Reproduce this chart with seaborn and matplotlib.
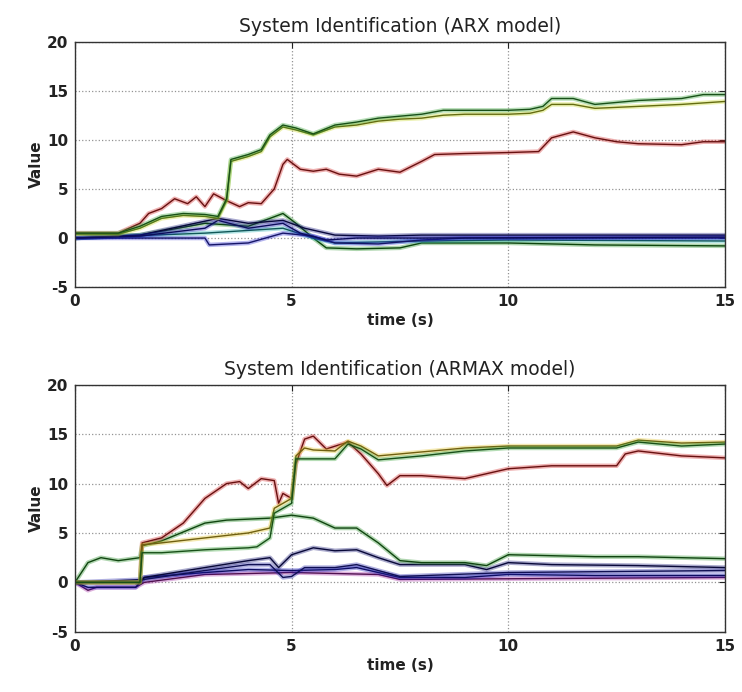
import matplotlib
matplotlib.use("Agg")
import matplotlib.pyplot as plt
import matplotlib.patheffects as pe
import matplotlib.colors as mcolors
import numpy as np
import pandas as pd
import seaborn as sns

# ---------------- ARX model estimates ----------------
arx_green_t = [0, 1, 1.5, 2, 2.5, 3, 3.3, 3.5, 3.6, 4, 4.3, 4.5, 4.8, 5.1, 5.5, 6, 6.5, 7, 7.5, 8, 8.5, 9, 10, 10.5, 10.8, 11, 11.5, 12, 12.5, 13, 14, 14.5, 15]
arx_green_v = [0.5, 0.5, 1.2, 2.2, 2.5, 2.4, 2.2, 4.0, 8.0, 8.5, 9.0, 10.5, 11.5, 11.2, 10.6, 11.5, 11.8, 12.2, 12.4, 12.6, 13.0, 13.0, 13.0, 13.1, 13.4, 14.2, 14.2, 13.6, 13.8, 14.0, 14.2, 14.6, 14.6]

arx_yellow_t = [0, 1, 1.5, 2, 2.5, 3, 3.3, 3.5, 3.6, 4, 4.3, 4.5, 4.8, 5.1, 5.5, 6, 6.5, 7, 7.5, 8, 8.5, 9, 10, 10.5, 10.8, 11, 11.5, 12, 12.5, 13, 14, 15]
arx_yellow_v = [0.4, 0.4, 1.0, 2.0, 2.3, 2.2, 2.0, 3.8, 7.8, 8.3, 8.8, 10.3, 11.3, 11.0, 10.5, 11.3, 11.5, 11.9, 12.1, 12.2, 12.5, 12.6, 12.6, 12.7, 13.0, 13.6, 13.6, 13.2, 13.3, 13.4, 13.6, 13.9]

arx_red_t = [0, 1, 1.5, 1.7, 2, 2.3, 2.6, 2.8, 3, 3.2, 3.5, 3.8, 4, 4.3, 4.6, 4.8, 4.9, 5.2, 5.5, 5.8, 6.1, 6.5, 7, 7.5, 8, 8.3, 9, 10, 10.7, 11, 11.5, 12, 12.5, 13, 14, 14.5, 15]
arx_red_v = [0.5, 0.5, 1.5, 2.5, 3.0, 4.0, 3.5, 4.2, 3.2, 4.5, 3.8, 3.2, 3.6, 3.5, 5.0, 7.5, 8.0, 7.0, 6.8, 7.0, 6.5, 6.3, 7.0, 6.7, 7.8, 8.5, 8.6, 8.7, 8.8, 10.2, 10.8, 10.2, 9.8, 9.6, 9.5, 9.8, 9.8]

arx_dkgreen_t = [0, 1.5, 3, 4, 4.5, 4.8, 5.1, 5.5, 5.8, 6.5, 7.5, 8, 9, 10, 12, 15]
arx_dkgreen_v = [0.0, 0.3, 1.5, 1.2, 2.0, 2.5, 1.5, 0.0, -1.0, -1.1, -1.0, -0.5, -0.5, -0.5, -0.7, -0.8]

arx_blue1_t = [0, 1.5, 3, 3.3, 4, 4.8, 5.2, 5.8, 6.5, 8, 15]
arx_blue1_v = [0.0, 0.2, 1.0, 1.8, 1.0, 1.5, 0.5, -0.2, 0.0, 0.0, 0.1]

arx_blue2_t = [0, 3, 3.1, 4, 4.8, 5.5, 6, 7, 8, 9, 15]
arx_blue2_v = [0.0, 0.0, -0.7, -0.5, 0.5, 0.2, -0.5, -0.6, -0.2, 0.0, 0.0]

arx_cyan_t = [0, 3, 4.8, 5.5, 6, 8, 10, 15]
arx_cyan_v = [0.0, 0.5, 1.0, 0.0, -0.5, -0.3, -0.2, -0.3]

arx_navy_t = [0, 1.5, 3.3, 4, 4.8, 5.3, 6, 7, 8, 15]
arx_navy_v = [0.0, 0.3, 2.0, 1.5, 1.8, 1.0, 0.3, 0.2, 0.3, 0.3]

# ---------------- ARMAX model estimates ----------------
armax_red_t = [0, 1.5, 1.55, 2, 2.5, 3, 3.5, 3.8, 4, 4.3, 4.6, 4.7, 4.8, 5, 5.1, 5.3, 5.5, 5.8, 6.3, 6.6, 7, 7.2, 7.5, 8, 9, 9.5, 10, 11, 12, 12.5, 12.7, 13, 14, 15]
armax_red_v = [0.0, 0.0, 4.0, 4.5, 6.0, 8.5, 10.0, 10.2, 9.5, 10.5, 10.3, 8.0, 9.0, 8.5, 12.0, 14.5, 14.8, 13.5, 14.2, 13.0, 11.0, 9.8, 10.8, 10.8, 10.5, 11.0, 11.5, 11.8, 11.8, 11.8, 13.0, 13.3, 12.8, 12.6]

armax_green_t = [0, 1.5, 1.55, 2, 3, 4, 4.2, 4.5, 4.6, 5, 5.1, 5.5, 6, 6.3, 6.6, 7, 8, 9, 10, 12.5, 13, 14, 15]
armax_green_v = [0.0, 0.0, 3.0, 3.0, 3.3, 3.5, 3.6, 4.5, 7.0, 8.0, 12.5, 12.5, 12.5, 14.0, 13.5, 12.4, 12.8, 13.3, 13.6, 13.6, 14.2, 13.8, 14.0]

armax_yellow_t = [0, 1.5, 1.55, 2, 3, 4, 4.5, 4.6, 5, 5.1, 5.3, 5.5, 6, 6.3, 6.6, 7, 8, 9, 10, 12.5, 13, 14, 15]
armax_yellow_v = [0.0, 0.0, 3.8, 4.0, 4.5, 5.0, 5.5, 7.5, 8.5, 12.8, 13.6, 13.4, 13.3, 14.3, 13.8, 12.8, 13.2, 13.6, 13.8, 13.8, 14.4, 14.1, 14.2]

armax_dkgreen_t = [0, 0.3, 0.6, 1, 1.5, 1.55, 2, 3, 3.5, 4.5, 5, 5.5, 6, 6.5, 7, 7.5, 8, 9, 9.5, 10, 11, 12, 13, 14, 15]
armax_dkgreen_v = [0.0, 2.0, 2.5, 2.2, 2.5, 3.7, 4.2, 6.0, 6.3, 6.5, 6.8, 6.5, 5.5, 5.5, 4.0, 2.2, 2.0, 2.0, 1.7, 2.8, 2.7, 2.6, 2.6, 2.5, 2.4]

armax_navy_t = [0, 1.5, 1.6, 3, 4, 4.5, 4.7, 5, 5.5, 6, 6.5, 7, 7.5, 8, 9, 9.5, 10, 11, 13, 15]
armax_navy_v = [0.0, 0.0, 0.5, 1.5, 2.2, 2.5, 1.5, 2.8, 3.5, 3.2, 3.3, 2.5, 1.8, 1.8, 1.8, 1.3, 2.0, 1.8, 1.7, 1.5]

armax_blue1_t = [0, 1.6, 3, 4, 4.5, 4.8, 5, 5.3, 6, 6.5, 7, 7.5, 10, 15]
armax_blue1_v = [0.0, 0.3, 1.2, 1.8, 1.8, 0.5, 0.6, 1.5, 1.5, 1.8, 1.2, 0.6, 1.0, 1.2]

armax_blue2_t = [0, 0.3, 1.4, 1.6, 3, 4, 5, 6, 6.5, 7, 7.5, 9, 10, 12, 15]
armax_blue2_v = [0.0, -0.5, -0.5, 0.5, 1.0, 1.3, 1.2, 1.3, 1.5, 1.0, 0.5, 0.5, 0.8, 0.7, 0.7]

armax_purple_t = [0, 0.3, 0.5, 1.4, 1.6, 3, 5, 7, 7.5, 15]
armax_purple_v = [0.0, -0.8, -0.5, -0.5, 0.0, 0.8, 1.0, 0.8, 0.3, 0.5]

titles = ["System Identification (ARX model)", "System Identification (ARMAX model)"]
x_label = "time (s)"
y_label = "Value"
x_ticks = [0, 5, 10, 15]
y_ticks = [-5, 0, 5, 10, 15, 20]

panels = [
    [
        (arx_dkgreen_t, arx_dkgreen_v, "#1a8a1a"),
        (arx_cyan_t, arx_cyan_v, "#20b0b0"),
        (arx_blue2_t, arx_blue2_v, "#2a2ad0"),
        (arx_navy_t, arx_navy_v, "#10107a"),
        (arx_blue1_t, arx_blue1_v, "#1818b8"),
        (arx_red_t, arx_red_v, "#d02020"),
        (arx_yellow_t, arx_yellow_v, "#c8d820"),
        (arx_green_t, arx_green_v, "#30a030"),
    ],
    [
        (armax_purple_t, armax_purple_v, "#a020a0"),
        (armax_blue2_t, armax_blue2_v, "#1818c0"),
        (armax_blue1_t, armax_blue1_v, "#2020a8"),
        (armax_navy_t, armax_navy_v, "#101070"),
        (armax_dkgreen_t, armax_dkgreen_v, "#208a20"),
        (armax_red_t, armax_red_v, "#d02020"),
        (armax_yellow_t, armax_yellow_v, "#e0c020"),
        (armax_green_t, armax_green_v, "#30a030"),
    ],
]

sns.set_theme(style="white")
plt.rcParams["font.family"] = ["DejaVu Sans"]

fig = plt.figure(figsize=(7.42, 6.92), dpi=100)
axes = [
    fig.add_axes([0.101, 0.585, 0.876, 0.355]),
    fig.add_axes([0.101, 0.087, 0.876, 0.357]),
]


def darken(c, f=0.5):
    r, g, b = mcolors.to_rgb(c)
    return (r * f, g * f, b * f)


for ax, title, series in zip(axes, titles, panels):
    for t, v, col in series:
        df = pd.DataFrame({"t": t, "v": v})
        sns.lineplot(data=df, x="t", y="v", ax=ax, color=darken(col),
                     linewidth=1.0, estimator=None, sort=False,
                     path_effects=[pe.Stroke(linewidth=3.2, foreground=col, alpha=0.35),
                                   pe.Normal()])
    ax.set_xlim(0, 15)
    ax.set_ylim(-5, 20)
    ax.set_xticks(x_ticks)
    ax.set_yticks(y_ticks)
    ax.set_xticklabels([str(x) for x in x_ticks])
    ax.set_yticklabels([str(y) for y in y_ticks])
    ax.grid(True, linestyle=":", color="#666666", linewidth=0.9, alpha=0.7)
    ax.tick_params(direction="in", length=4, width=0.8, colors="#222222",
                   labelsize=11, pad=5, top=True, right=True)
    for lab in ax.get_xticklabels() + ax.get_yticklabels():
        lab.set_fontweight("bold")
    for s in ax.spines.values():
        s.set_color("#333333")
        s.set_linewidth(1.0)
    ax.set_title(title, fontsize=13.5, color="#222222", pad=7)
    ax.set_xlabel(x_label, fontsize=11, fontweight="bold", color="#222222", labelpad=3)
    ax.set_ylabel(y_label, fontsize=11, fontweight="bold", color="#222222", labelpad=2)

fig.savefig("out.png", dpi=100, facecolor="white")
